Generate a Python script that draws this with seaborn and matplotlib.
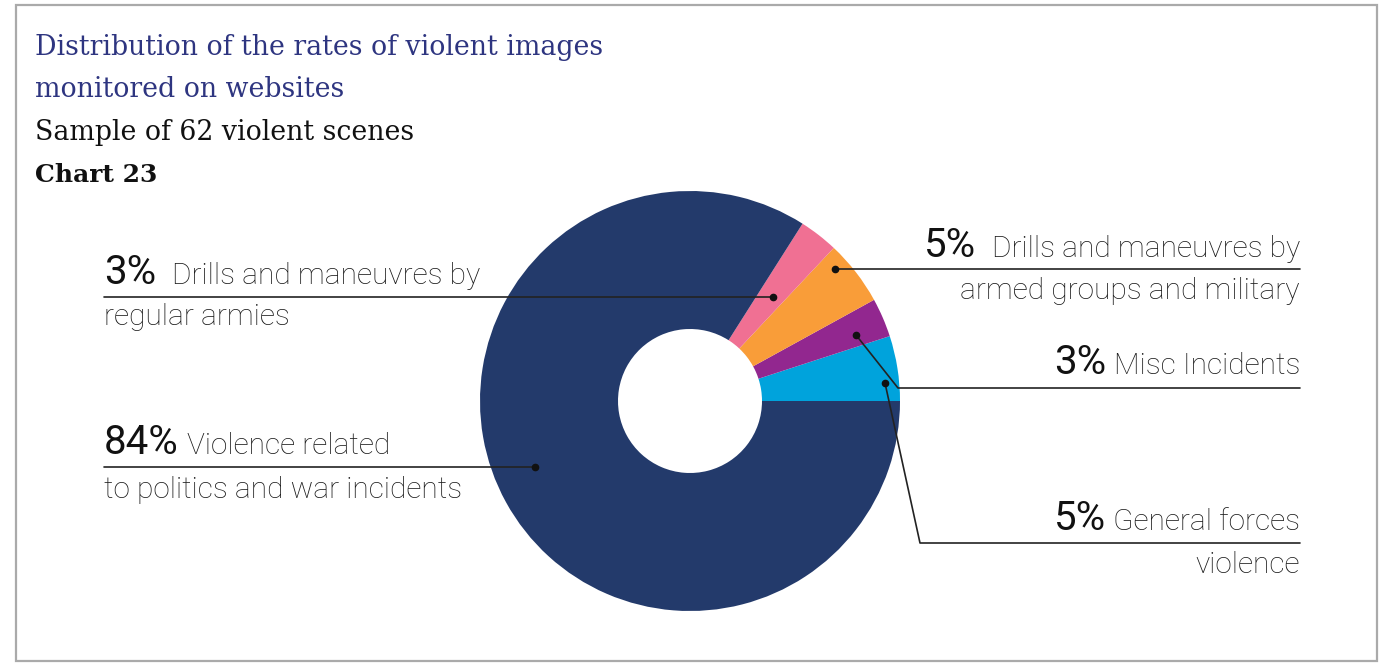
import matplotlib
matplotlib.use("Agg")
import matplotlib.pyplot as plt
from matplotlib.patches import Rectangle
import seaborn as sns

# slice data, counter-clockwise from 3 o'clock
categories = [
    "General forces violence",
    "Misc Incidents",
    "Drills and maneuvres by armed groups and military",
    "Drills and maneuvres by regular armies",
    "Violence related to politics and war incidents",
]
shares = [5, 3, 5, 3, 84]
slice_colors = ["#00a3dc", "#92278f", "#f99d39", "#f07093", "#233a6b"]

title_lines = ["Distribution of the rates of violent images", "monitored on websites"]
subtitle = "Sample of 62 violent scenes"
chart_no = "Chart 23"

sns.set_theme(style="white")
plt.rcParams["font.family"] = ["Roboto", "DejaVu Sans"]

W, H = 1382, 663
fig = plt.figure(figsize=(W / 100, H / 100), dpi=100)
ax = fig.add_axes([0, 0, 1, 1])

# pixel space, y down -> draw clockwise in data so it reads counter-clockwise
cx, cy, r_out, r_in = 690, 401, 210, 72
ax.pie(shares, colors=sns.color_palette(slice_colors), startangle=0,
       counterclock=False, radius=r_out, center=(cx, cy), frame=True,
       wedgeprops=dict(width=r_out - r_in, linewidth=0))
ax.set_xlim(0, W)
ax.set_ylim(H, 0)
ax.set_aspect("equal")
ax.axis("off")

ax.add_patch(Rectangle((16, 5), 1361, 656, fill=False, edgecolor="#aaaaaa", lw=1.6))

# titles
serif = ["DejaVu Serif"]
ax.text(35, 55, title_lines[0], color="#2e3580", fontsize=19.3, family=serif)
ax.text(35, 97, title_lines[1], color="#2e3580", fontsize=19.3, family=serif)
ax.text(35, 140, subtitle, color="#111111", fontsize=19.3, family=serif)
ax.text(35, 182, chart_no, color="#111111", fontsize=18, family=serif, weight="bold")

big = dict(fontsize=29, color="#111111", va="baseline")
small = dict(fontsize=21.5, color="#1a1a1a", va="baseline", weight="light")
line_kw = dict(color="#222222", lw=1.2)

# label layout: (pct, first line, second line, side, baselines, pct x, leader path)
labels = [
    (3, "Drills and maneuvres by", "regular armies", "left", (284, 325), 172,
     [(104, 297), (773, 297)]),
    (84, "Violence related", "to politics and war incidents", "left", (454, 498), 187,
     [(104, 467), (535, 467)]),
    (5, "Drills and maneuvres by", "armed groups and military", "right", (257, 299), 976,
     [(1300, 269), (835, 269)]),
    (3, "Misc Incidents", None, "right", (374, None), 1106,
     [(1300, 388), (898, 388), (856, 335)]),
    (5, "General forces", "violence", "right", (530, 573), 1106,
     [(1300, 543), (920, 543), (885, 383)]),
]

for pct, l1, l2, side, (b1, b2), px, path in labels:
    if side == "left":
        ax.text(104, b1, f"{pct}%", ha="left", **big)
        ax.text(px, b1, l1, ha="left", **small)
        if l2:
            ax.text(104, b2, l2, ha="left", **small)
    else:
        ax.text(px, b1, f"{pct}%", ha="right", **big)
        ax.text(1300, b1, l1, ha="right", **small)
        if l2:
            ax.text(1300, b2, l2, ha="right", **small)
    xs, ys = zip(*path)
    ax.plot(xs, ys, **line_kw)
    ax.plot(xs[-1], ys[-1], "o", color="#111111", ms=4.5)

fig.savefig("out.png", dpi=100, facecolor="white")
